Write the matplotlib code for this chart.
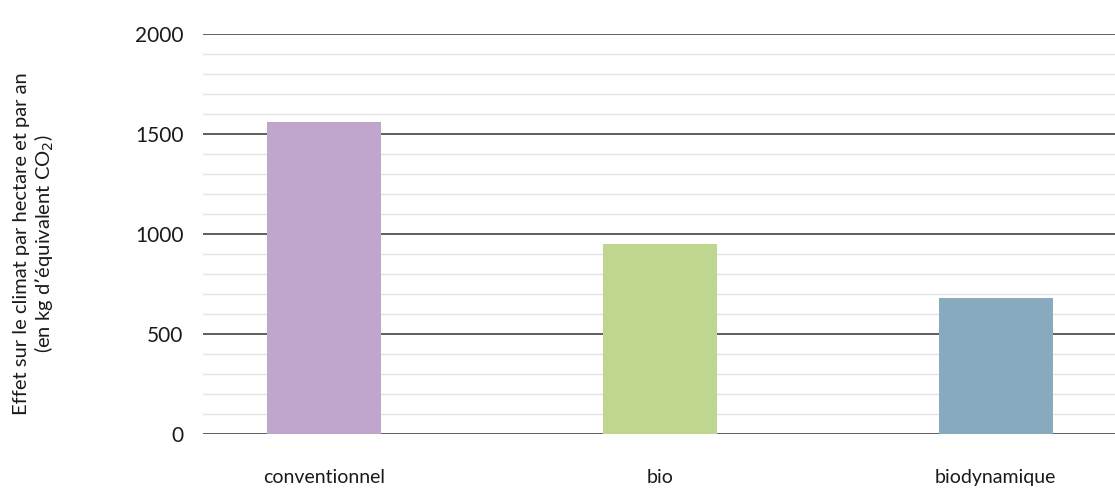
import numpy as np
import matplotlib.pyplot as plt

plt.rcParams['font.family'] = ['Lato', 'DejaVu Sans']

# Data
categories = ['conventionnel', 'bio', 'biodynamique']
values = [1560, 950, 680]
colors = ['#c0a6cd', '#bfd690', '#87aabe']

fig = plt.figure(figsize=(11.15, 4.88), dpi=100)
ax = fig.add_axes([203 / 1115, 54 / 488, 1 - 203 / 1115, 400 / 488])

x = np.arange(len(categories))
ax.bar(x, values, width=0.34, color=colors, zorder=3)

ax.set_ylim(0, 2000)
ax.set_xlim(-0.36, 2.355)
ax.set_yticks(np.arange(0, 2001, 500))
ax.set_yticks(np.arange(0, 2001, 100), minor=True)
ax.grid(which='major', axis='y', color='#333333', linewidth=1.1, zorder=1)
ax.grid(which='minor', axis='y', color='#e3e3e3', linewidth=1.0, zorder=0)
ax.grid(axis='x', visible=False)

ax.set_xticks(x)
ax.set_xticklabels(categories, fontsize=14)
ax.tick_params(axis='both', which='both', length=0, labelcolor='#1a1a1a')
ax.tick_params(axis='x', pad=25)
ax.tick_params(axis='y', pad=14, labelsize=15)
for s in ax.spines.values():
    s.set_visible(False)

fig.text(0.012, 0.5, 'Effet sur le climat par hectare et par an\n(en kg d\u2019\u00e9quivalent CO$_2$)',
         rotation=90, ha='left', va='center', fontsize=14.5, linespacing=1.15,
         multialignment='center', color='#1a1a1a')

fig.savefig('out.png', dpi=100)
